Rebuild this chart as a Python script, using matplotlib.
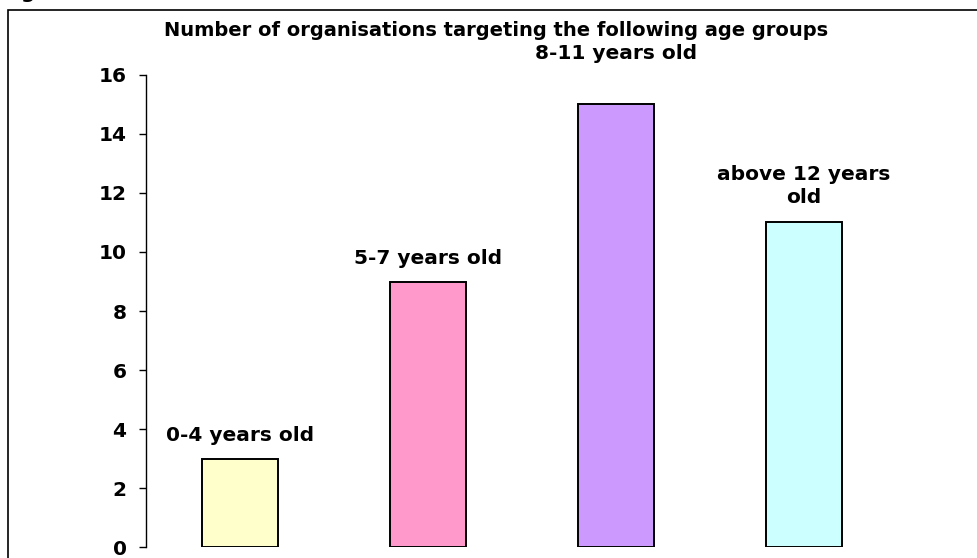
import matplotlib.pyplot as plt
from matplotlib.patches import Rectangle

groups = ["0-4 years old", "5-7 years old", "8-11 years old", "above 12 years\nold"]
counts = [3, 9, 15, 11]
colours = ["#FFFFCC", "#FF99CC", "#CC99FF", "#CCFFFF"]
y_ticks = [0, 2, 4, 6, 8, 10, 12, 14, 16]
title = "Number of organisations targeting the following age groups"

# DejaVu bold is wide, close to the stretched Arial of the original
plt.rcParams['font.family'] = ['DejaVu Sans']
plt.rcParams['font.weight'] = 'bold'
fs = 14.5

fig = plt.figure(figsize=(9.77, 5.58), dpi=100)
ax = fig.add_axes([0.1494, 0.0197, 0.7697, 0.8459])

x = range(len(counts))
bars = ax.bar(x, counts, width=0.405, color=colours, edgecolor='black', linewidth=1.4)

# label offsets in points (Excel put the tallest one higher up)
offsets = [10, 10, 30, 11]
for b, lab, off in zip(bars, groups, offsets):
    ax.annotate(lab, (b.get_x() + b.get_width() / 2, b.get_height()),
                xytext=(0, off), textcoords='offset points',
                ha='center', va='bottom', fontsize=fs, fontweight='bold',
                linespacing=1.3)

ax.set_xlim(-0.5, 3.5)
ax.set_ylim(0, 16)
ax.set_yticks(y_ticks)
ax.set_xticks([])
ax.tick_params(axis='y', direction='out', length=5, width=1, pad=9, labelsize=fs)
for s in ['top', 'right', 'bottom']:
    ax.spines[s].set_visible(False)
ax.spines['left'].set_linewidth(1)

fig.text(0.508, 0.945, title, ha='center', va='center', fontsize=14, fontweight='bold')

# outer chart frame
fig.patches.append(Rectangle((8 / 977, -0.05), 1.0, 0.05 + (558 - 10) / 558,
                             transform=fig.transFigure, fill=False,
                             edgecolor='black', linewidth=1.2))
# cut-off "g" left over from the text above the chart
fig.text(20 / 977, 1 + 2 / 558, "g", ha='left', va='baseline', fontsize=fs,
         fontweight='bold')

fig.savefig("out.png", dpi=100)
